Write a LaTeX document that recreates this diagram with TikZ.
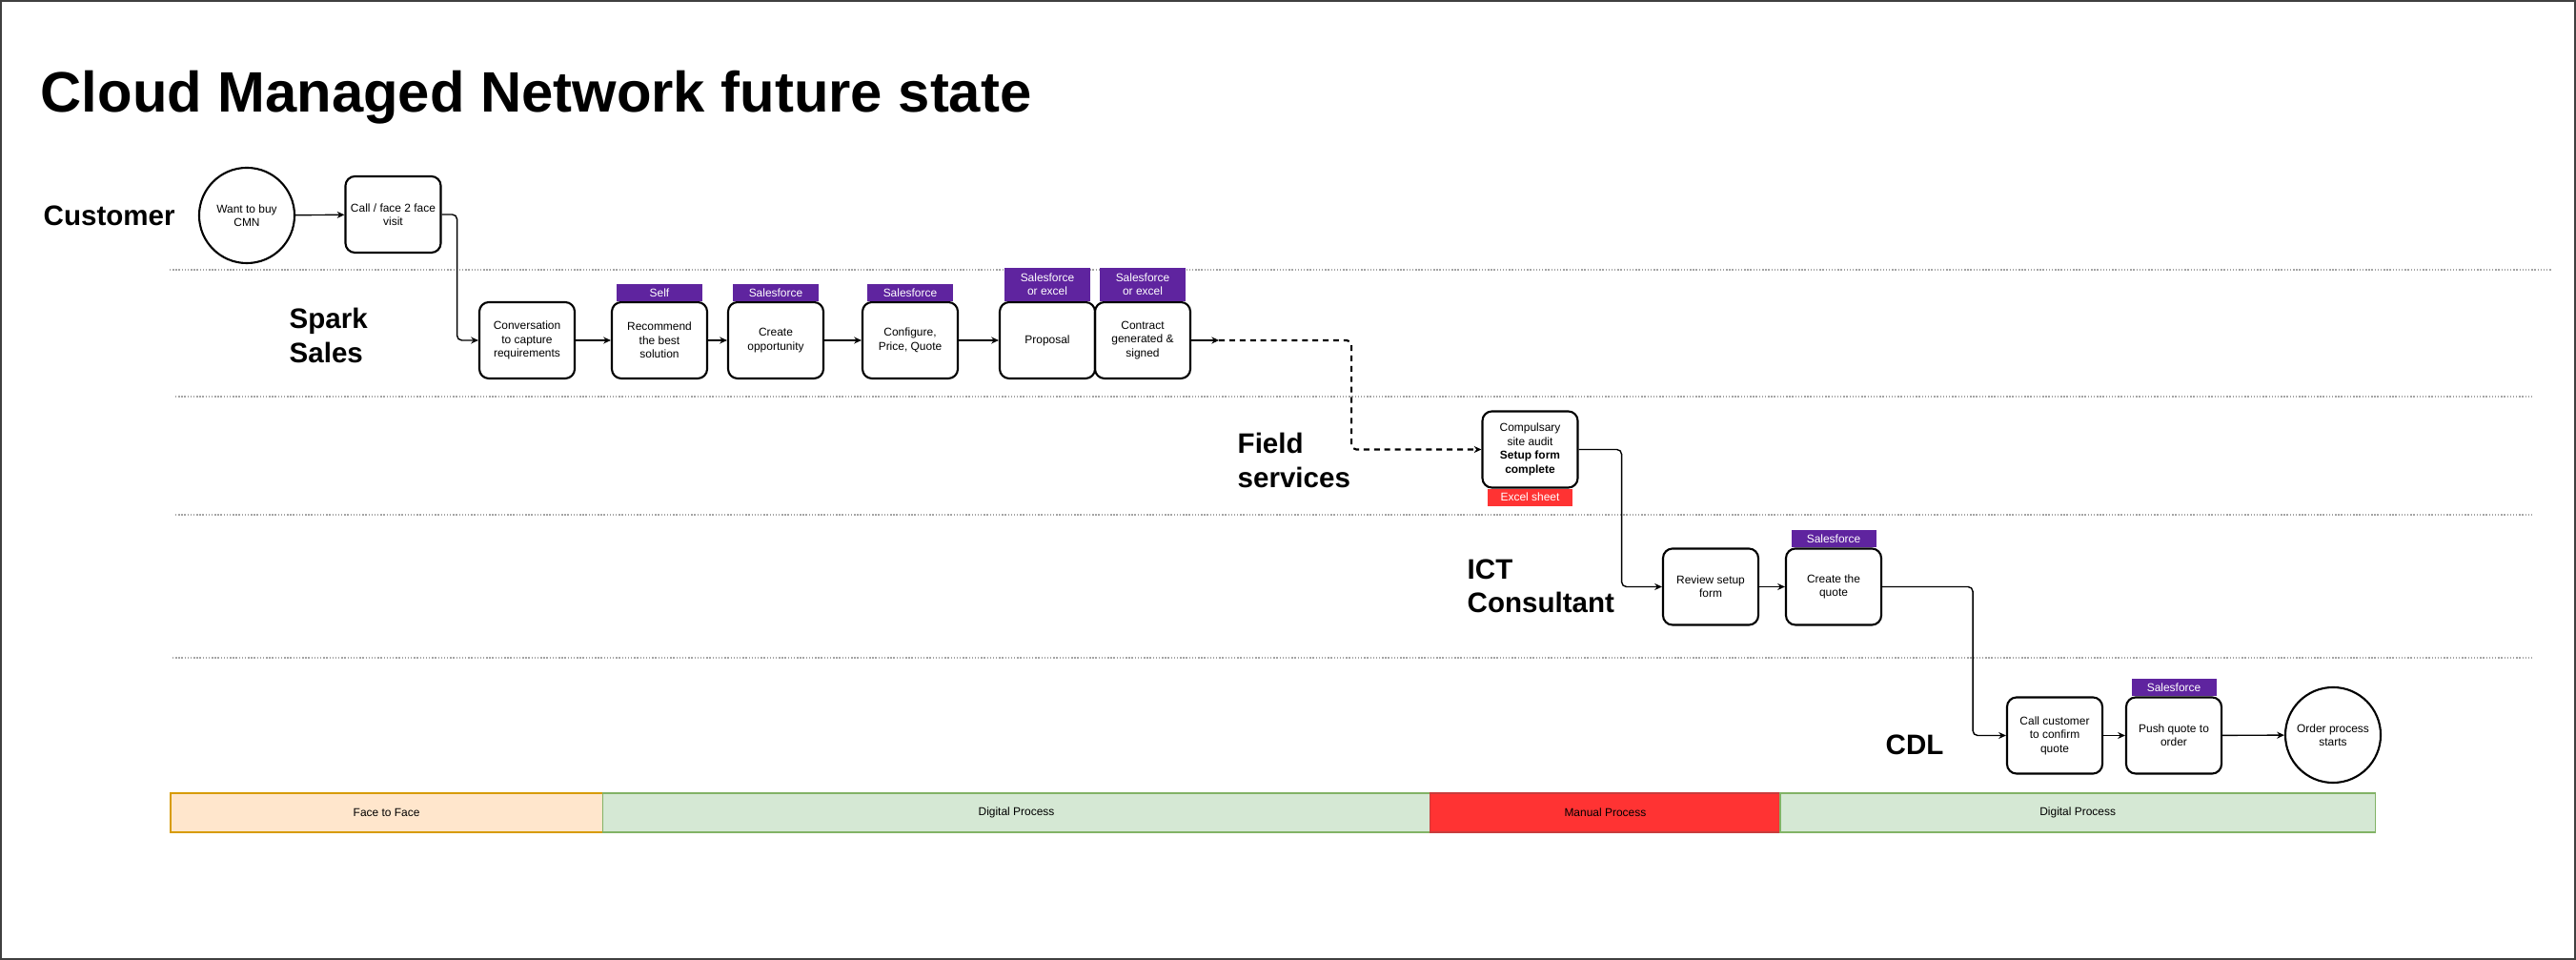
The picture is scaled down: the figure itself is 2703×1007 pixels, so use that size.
\documentclass[tikz,border=0pt]{standalone}
\usepackage{fontspec}
\setmainfont{Liberation Sans}
\usetikzlibrary{arrows.meta,positioning}
\definecolor{sparkp}{RGB}{95,36,159}
\definecolor{xlred}{RGB}{255,51,51}
\definecolor{ffill}{RGB}{255,230,204}
\definecolor{fline}{RGB}{215,155,0}
\definecolor{dfill}{RGB}{213,232,212}
\definecolor{dline}{RGB}{130,179,102}
\definecolor{mline}{RGB}{200,60,60}
\definecolor{lanec}{RGB}{165,165,165}
\newcommand{\boxfont}{\fontsize{3.4}{4.1}\selectfont}
\newcommand{\lanefont}{\fontsize{8.4}{10}\selectfont\bfseries}

\begin{document}
\begin{tikzpicture}[x=0.01cm,y=-0.01cm,font=\boxfont,>={Stealth[length=2.2pt,width=2pt]},line width=0.4pt]
\tikzstyle{b}=[draw,rounded corners=0.1cm,line width=0.6pt,minimum width=1cm,minimum height=0.8cm,align=center,inner sep=1pt]
\tikzstyle{c}=[draw,circle,line width=0.6pt,minimum size=1cm,align=center,inner sep=0pt]
\tikzstyle{t}=[fill=sparkp,text=white,minimum width=0.89cm,minimum height=0.18cm,align=center,inner sep=0pt,outer sep=0pt]
\tikzstyle{lane}=[font=\lanefont,align=left,inner sep=0pt]
\tikzstyle{sep}=[lanec,line width=0.3pt,dash pattern=on 0.4pt off 0.5pt]
\tikzstyle{bar}=[draw,minimum height=0.41cm,inner sep=0pt,outer sep=0pt,line width=0.4pt]
\useasboundingbox (0,0) rectangle (2703,1007);
\draw[black!75,line width=0.5pt] (1,1) rectangle (2702,1006);
\node[anchor=base west,inner sep=0pt,font=\fontsize{17}{20}\selectfont\bfseries] (title) at (42,118) {Cloud Managed Network future state};
% swim lanes
\node[lane,anchor=base west] (cust) at (45,237) {Customer};
\node[lane,anchor=west] (spark) at (303,352) {Spark\\Sales};
\node[lane,anchor=west] (field) at (1298,483) {Field\\services};
\node[lane,anchor=west] (ict) at (1539,615) {ICT\\Consultant};
\node[lane,anchor=base west] (cdl) at (1978,792) {CDL};
\draw[sep] (178,283) -- (2677,283);
\draw[sep] (184,416) -- (2657,416);
\draw[sep] (184,540) -- (2657,540);
\draw[sep] (181,690) -- (2657,690);
% customer
\node[c] (want) at (259,226) {Want to buy\\CMN};
\node[b] (call) at (412.5,225) {Call / face 2 face\\visit};
% spark sales
\node[b] (conv) at (553,357) {Conversation\\to capture\\requirements};
\node[b] (rec) at (692,357) {Recommend\\the best\\solution};
\node[b] (opp) at (814,357) {Create\\opportunity};
\node[b] (cpq) at (955,357) {Configure,\\Price, Quote};
\node[b] (prop) at (1099,357) {Proposal};
\node[b] (contr) at (1199,357) {Contract\\generated \&\\signed};
\node[t,above=0pt of rec] (rect) {Self};
\node[t,above=0pt of opp] (oppt) {Salesforce};
\node[t,above=0pt of cpq] (cpqt) {Salesforce};
\node[t,above=0pt of prop,minimum height=0.35cm] (propt) {Salesforce\\or excel};
\node[t,above=0pt of contr,minimum height=0.35cm] (contrt) {Salesforce\\or excel};
% field services
\node[b] (audit) at (1605.5,471.5) {Compulsary\\site audit\\\textbf{Setup form}\\\textbf{complete}};
\node[t,fill=xlred,below=0pt of audit] (auditt) {Excel sheet};
% ict consultant
\node[b] (rev) at (1795,615.5) {Review setup\\form};
\node[b] (quote) at (1924,615.5) {Create the\\quote};
\node[t,above=0pt of quote] (quotet) {Salesforce};
% cdl
\node[b] (callc) at (2156,771.5) {Call customer\\to confirm\\quote};
\node[b] (push) at (2281,771.5) {Push quote to\\order};
\node[t,above=0pt of push] (pusht) {Salesforce};
\node[c] (order) at (2448,771) {Order process\\starts};
% flow
\draw[->] (want) -- (call);
\draw[->,rounded corners=0.05cm] (call.east) -- ++(16,0) |- (conv.west);
\draw[->] (conv) -- (rec); \draw[->] (rec) -- (opp); \draw[->] (opp) -- (cpq); \draw[->] (cpq) -- (prop);
\draw[->] (contr.east) -- ++(29,0) coordinate (dsh);
\draw[->,line width=0.6pt,dash pattern=on 1.7pt off 1.4pt,rounded corners=0.05cm] (dsh) -- ++(139,0) |- (audit.west);
\draw[->,rounded corners=0.05cm] (audit.east) -- ++(45,0) |- (rev.west);
\draw[->] (rev) -- (quote);
\draw[->,rounded corners=0.05cm] (quote.east) -- ++(95,0) |- (callc.west);
\draw[->] (callc) -- (push); \draw[->] (push) -- (order);
% process bar
\node[bar,draw=fline,fill=ffill,minimum width=4.53cm,anchor=north west] (f2f) at (179,832) {Face to Face};
\node[bar,draw=dline,fill=dfill,minimum width=8.68cm,right=0pt of f2f] (dig1) {Digital Process};
\node[bar,draw=mline,fill=xlred,minimum width=3.67cm,right=0pt of dig1] (man) {Manual Process};
\node[bar,draw=dline,fill=dfill,minimum width=6.24cm,right=0pt of man] (dig2) {Digital Process};
\end{tikzpicture}
\end{document}
